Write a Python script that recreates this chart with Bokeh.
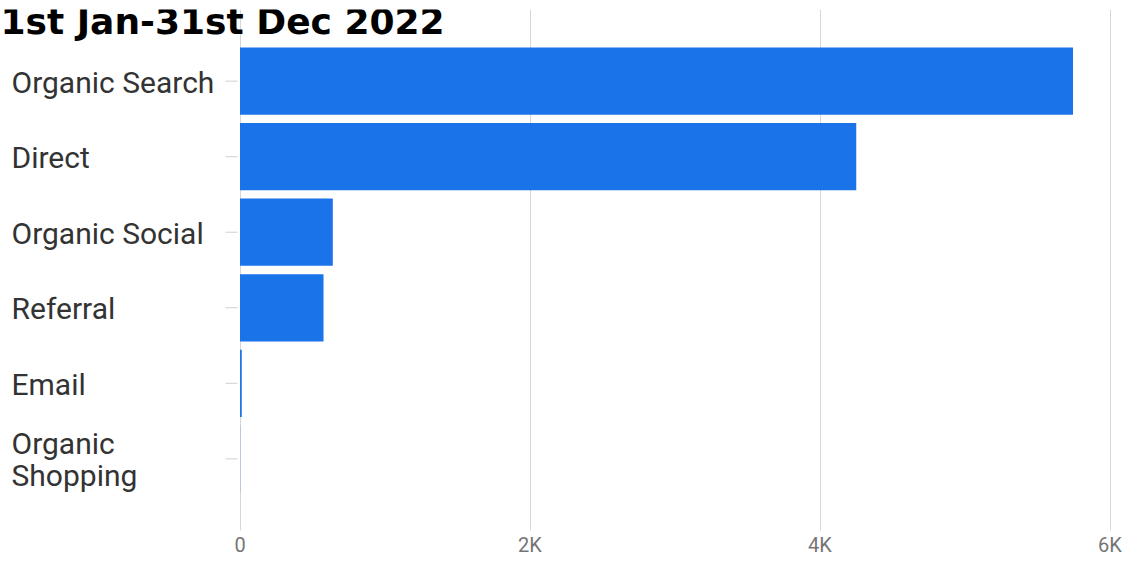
from bokeh.plotting import figure
from bokeh.models import FactorRange, Range1d, FixedTicker, Label
from bokeh.core.properties import value
from bokeh.embed import file_html
from bokeh.resources import INLINE

# ---- data ----
title_text = "1st Jan-31st Dec 2022"
categories = ["Organic Search", "Direct", "Organic Social", "Referral", "Email", "Organic Shopping"]
sessions = [5745, 4250, 640, 576, 12, 1]
tick_values = [0, 2000, 4000, 6000]
tick_labels = ["0", "2K", "4K", "6K"]

# ---- layout ----
W, H = 1128, 562
TOP, BOTTOM = 9, 32
zero_px = 239.5
px_per_unit = 870 / 6000.0
x_start = -zero_px / px_per_unit
x_end = (W - zero_px) / px_per_unit

y_range = FactorRange(factors=categories[::-1], range_padding=0.897 / 6, range_padding_units="percent")

p = figure(width=W, height=H, x_range=Range1d(x_start, x_end), y_range=y_range,
           output_backend="svg", toolbar_location=None,
           min_border_left=0, min_border_right=0, min_border_top=TOP, min_border_bottom=BOTTOM)
p.outline_line_color = None
p.background_fill_color = "white"
p.border_fill_color = "white"

p.yaxis.visible = False
p.ygrid.grid_line_color = None

p.xaxis.ticker = FixedTicker(ticks=tick_values)
p.xaxis.major_label_overrides = {v: l for v, l in zip(tick_values, tick_labels)}
p.xaxis.axis_line_color = None
p.xaxis.major_tick_line_color = None
p.xaxis.major_tick_in = 0
p.xaxis.major_tick_out = 0
p.xaxis.minor_tick_line_color = None
p.xaxis.major_label_standoff = 2
p.xaxis.major_label_text_font = "Roboto"
p.xaxis.major_label_text_font_size = "20px"
p.xaxis.major_label_text_color = "#757575"
p.xgrid.ticker = FixedTicker(ticks=tick_values)
p.xgrid.grid_line_color = "#d6d6d6"
p.xgrid.grid_line_width = 1

# bars
p.hbar(y=categories, left=0, right=sessions, height=0.89, fill_color="#1a73e8", line_color=None)

# small category tick marks left of zero line
p.segment(x0=[-(zero_px - 225) / px_per_unit] * len(categories),
          x1=[-(zero_px - 237) / px_per_unit] * len(categories),
          y0=categories, y1=categories, line_color="#d0d0d0", line_width=1)

# category labels, left aligned
label_x = x_start + 11 / px_per_unit
p.text(x=[label_x] * len(categories), y=categories,
       text=[c.replace("Organic Shopping", "Organic\nShopping") for c in categories],
       text_align="left", text_baseline="middle", y_offset=1,
       text_font=value("Roboto"), text_font_size="30px", text_color="#333333",
       text_line_height=0.92)

# title
p.add_layout(Label(x=0, y=H - TOP - BOTTOM - 12, x_units="screen", y_units="screen",
                   text=title_text, text_font="DejaVu Sans", text_font_style="bold",
                   text_font_size="36px", text_color="#000000", text_baseline="alphabetic"))

open("out.html", "w").write(file_html(p, INLINE))
